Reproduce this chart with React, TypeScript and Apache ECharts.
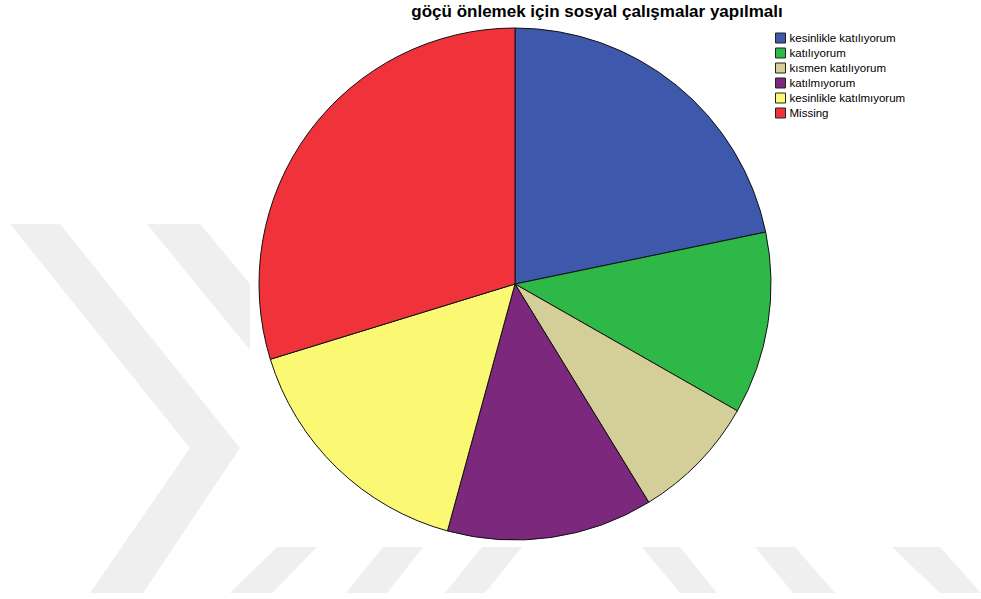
import React, { useEffect, useRef } from "react";
import * as echarts from "echarts";

const TITLE = "göçü önlemek için sosyal çalışmalar yapılmalı";
const categories = [
  "kesinlikle katılıyorum",
  "katılıyorum",
  "kısmen katılıyorum",
  "katılmıyorum",
  "kesinlikle katılmıyorum",
  "Missing",
];
const values = [43.5, 23, 16, 26, 32, 59.5];
const colors = ["#3E58AC", "#2EB848", "#D4CF98", "#7B287D", "#FBF873", "#F0323A"];

const WM = "#efefef";
const watermark: number[][][] = [
  [[10, 224], [60, 224], [240, 448], [143, 593], [90, 593], [190, 448]],
  [[147, 224], [200, 224], [250, 284], [250, 350]],
  [[277, 547], [317, 547], [272, 593], [230, 593]],
  [[383, 547], [423, 547], [387, 593], [346, 593]],
  [[482, 547], [522, 547], [485, 593], [445, 593]],
  [[642, 547], [680, 547], [717, 593], [680, 593]],
  [[755, 547], [795, 547], [835, 593], [793, 593]],
  [[892, 547], [940, 547], [981, 593], [940, 593]],
];

export default function App() {
  const ref = useRef<HTMLDivElement>(null);
  useEffect(() => {
    if (!ref.current) return;
    const chart = echarts.init(ref.current, null, { renderer: "svg" });
    chart.setOption({
      animation: false,
      backgroundColor: "#ffffff",
      title: {
        text: TITLE,
        left: 597,
        textAlign: "center",
        top: 3,
        padding: 0,
        textStyle: {
          fontFamily: "Liberation Sans, Arial, sans-serif",
          fontSize: 17,
          fontWeight: "bold",
          color: "#000",
        },
      },
      legend: {
        orient: "vertical",
        left: 775,
        top: 32,
        padding: 0,
        itemWidth: 10,
        itemHeight: 10,
        itemGap: 3,
        icon: "rect",
        selectedMode: false,
        data: categories,
        itemStyle: { borderColor: "#222", borderWidth: 1 },
        textStyle: {
          fontFamily: "Liberation Sans, Arial, sans-serif",
          fontSize: 11.5,
          lineHeight: 10,
          color: "#000",
          padding: [0, 0, 0, -1],
        },
      },
      graphic: watermark.map((pts) => ({
        type: "polygon",
        z: -10,
        silent: true,
        shape: { points: pts },
        style: { fill: WM },
      })),
      series: [
        {
          type: "pie",
          center: [515, 284],
          radius: 256,
          startAngle: 90,
          clockwise: true,
          label: { show: false },
          labelLine: { show: false },
          emphasis: { disabled: true },
          itemStyle: { borderColor: "#111", borderWidth: 1 },
          data: categories.map((name, i) => ({
            name,
            value: values[i],
            itemStyle: { color: colors[i] },
          })),
        },
      ],
    });
    return () => chart.dispose();
  }, []);
  return <div ref={ref} style={{ width: 981, height: 599, position: "absolute", left: 0, top: 0 }} />;
}
